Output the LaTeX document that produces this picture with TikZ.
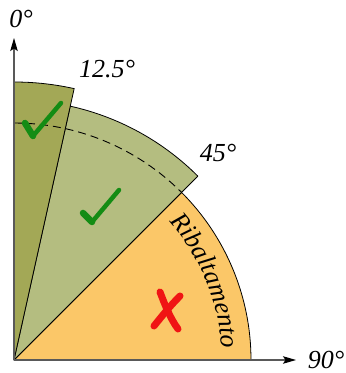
\documentclass[tikz,border=0pt]{standalone}
\usepackage{fontspec}
\setmainfont{Liberation Serif}
\usetikzlibrary{arrows.meta,decorations.text}
\definecolor{olivedark}{RGB}{163,168,86}
\definecolor{olivelight}{RGB}{180,189,128}
\definecolor{orangefill}{RGB}{251,199,104}
\definecolor{checkgreen}{RGB}{20,140,20}
\definecolor{crossred}{RGB}{240,20,20}
\begin{document}
\begin{tikzpicture}[x=1pt,y=1pt,
  sector/.style={draw=black, line width=0.8pt, line join=round},
  lbl/.style={font=\fontsize{26}{30}\selectfont\itshape, inner sep=0pt, anchor=base},
  axisline/.style={draw=black!65, line width=1.1pt, -{Stealth[length=13pt,width=7.5pt,inset=2.5pt,black]}},
  checkshort/.style={draw=checkgreen, line width=6.5pt, line cap=round},
  checklong/.style={draw=checkgreen, line width=4.5pt, line cap=round},
  crossstroke/.style={draw=crossred, line width=7pt, line cap=round}]
\useasboundingbox (0,0) rectangle (346,373);
\coordinate (O) at (14,13);
\coordinate (ytip) at (14,335);
\coordinate (xtip) at (296,13);
% sectors
\path[sector, fill=orangefill] (O) -- ([shift={(45:237)}]O) arc[start angle=45,end angle=0,radius=237] -- cycle;
\path[sector, fill=olivelight] (O) -- ([shift={(77.5:260)}]O) arc[start angle=77.5,end angle=45,radius=260] -- cycle;
\path[sector, fill=olivedark] (O) -- ([shift={(90:278)}]O) arc[start angle=90,end angle=77.5,radius=278] -- cycle;
% dashed arc
\draw[black, line width=0.9pt, dash pattern=on 8pt off 5pt] ([shift={(90:237)}]O) arc[start angle=90,end angle=45,radius=237];
% axes
\draw[axisline] (O) -- (ytip);
\draw[axisline] (O) -- (xtip);
% labels
\node[lbl] (l0) at (21,345) {0°};
\node[lbl] (l125) at (107,295) {12.5°};
\node[lbl] (l45) at (218,211) {45°};
\node[lbl] (l90) at (326,5) {90°};
% text along arc
\path[decorate, decoration={text along path, text align=center,
  text={|\fontsize{26}{30}\selectfont\itshape|Ribaltamento}}]
  ([shift={(45:208)}]O) arc[start angle=45,end angle=0,radius=208];
% check marks
\draw[checkshort] (25,250) -- (33,237);
\draw[checklong] (33,237) -- (61,270);
\draw[checkshort] (83,160) -- (92,151);
\draw[checklong] (92,151) -- (119,183);
% cross
\draw[crossstroke] (160,81) .. controls (165,68) and (170,55) .. (178,44);
\draw[crossstroke] (180,77) .. controls (170,67) and (162,57) .. (154,47);
\end{tikzpicture}
\end{document}
